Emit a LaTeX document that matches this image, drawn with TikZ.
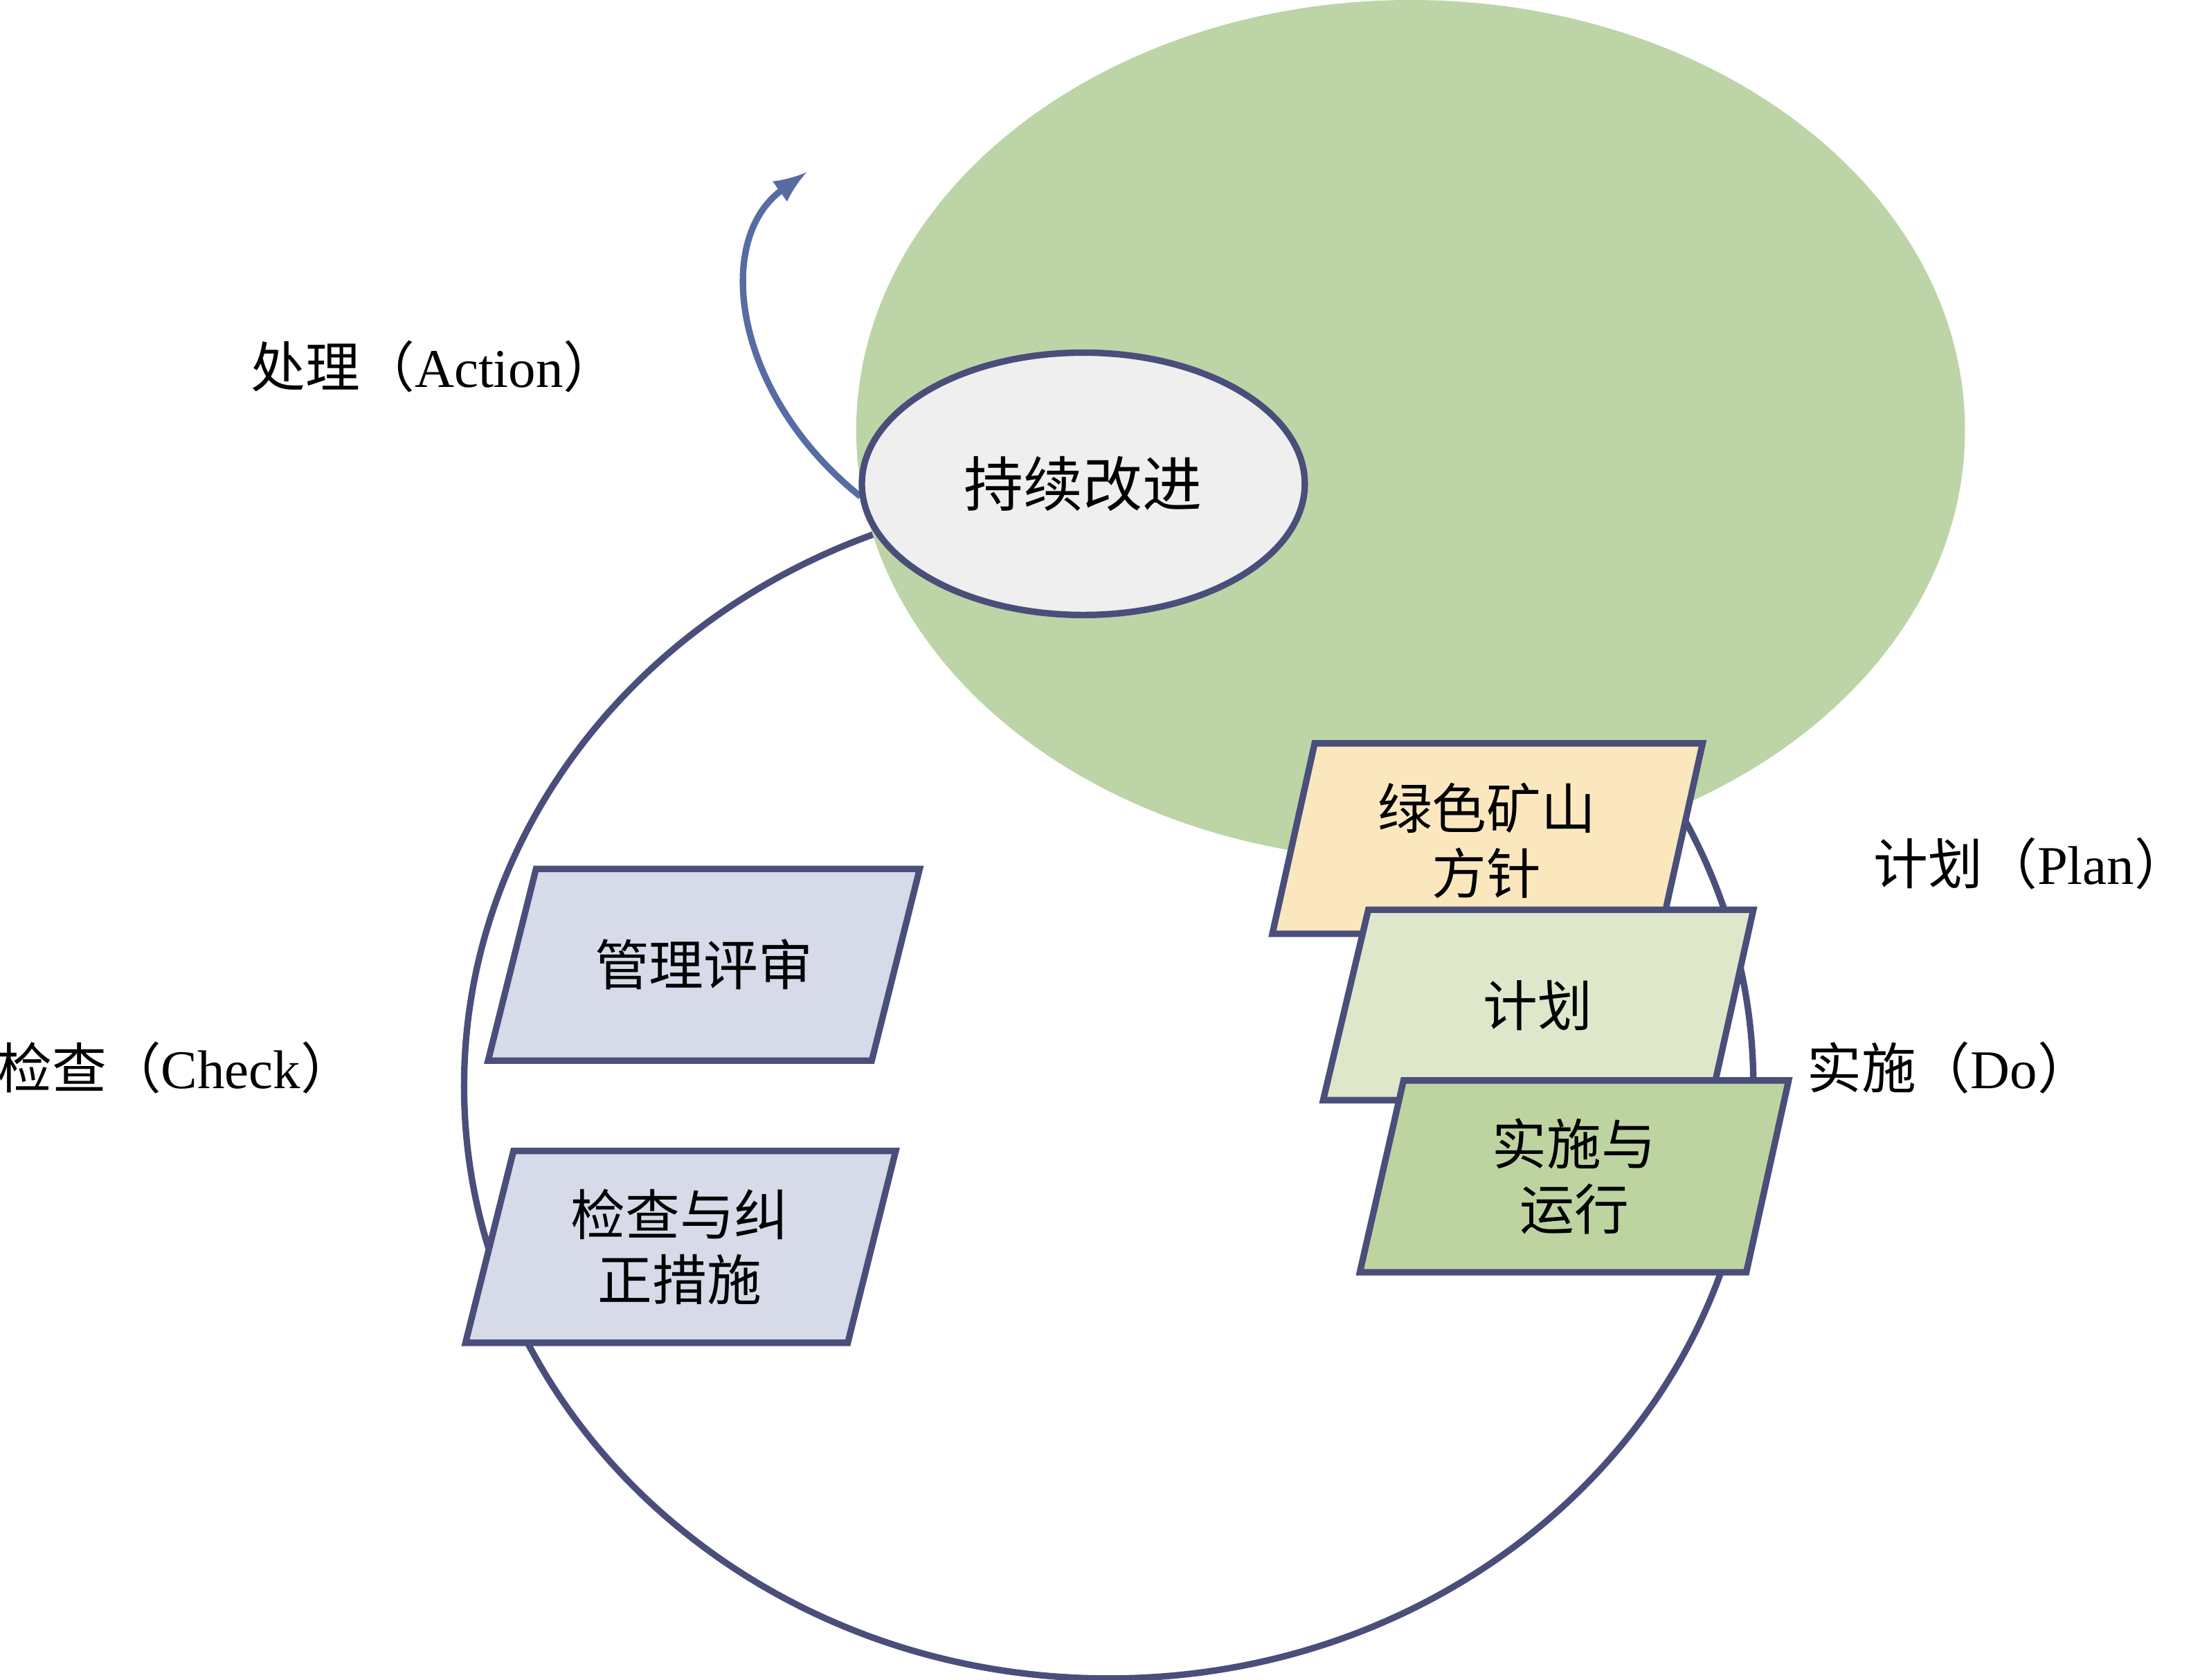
\documentclass[tikz,border=0pt]{standalone}
\usepackage{fontspec}
\setmainfont{Liberation Serif}
\newfontfamily\cjk{Noto Sans CJK SC}
\begin{document}
\begin{tikzpicture}[x=0.01cm,y=-0.01cm,
  navy/.style={draw={rgb,255:red,74;green,78;blue,122},line width=1.3pt},
  lab/.style={font=\fontsize{11pt}{13pt}\selectfont, align=center},
  para/.style={navy}]
\definecolor{gr}{RGB}{189,212,167}
\useasboundingbox (0,0) rectangle (1566,1191);
\draw[navy] (786,770) ellipse [x radius=457, y radius=420];
\fill[gr] (1000,305) ellipse [x radius=393, y radius=305];
\coordinate (as) at (610,352);
\coordinate (ae) at (572,122);
\draw[draw={rgb,255:red,88;green,108;blue,164},line width=1.3pt,-latex] (as) .. controls (520,280) and (505,170) .. (ae);
\draw[navy,fill={rgb,255:red,239;green,239;blue,239}] (768,343) ellipse [x radius=157, y radius=93];
\node[lab,font=\fontsize{12pt}{14pt}\selectfont] (ci) at (768,343) {\cjk 持续改进};
\draw[para,fill={rgb,255:red,251;green,231;blue,190}] (932,527)--(1207,527)--(1177,662)--(902,662)--cycle;
\node[lab] (p1) at (1054,596) {\cjk 绿色矿山\\\cjk 方针};
\draw[para,fill={rgb,255:red,222;green,231;blue,202}] (970,645)--(1243,645)--(1213,780)--(938,780)--cycle;
\node[lab] (p2) at (1090,713) {\cjk 计划};
\draw[para,fill={rgb,255:red,189;green,212;blue,160}] (995,766)--(1268,766)--(1238,902)--(964,902)--cycle;
\node[lab] (p3) at (1116,834) {\cjk 实施与\\\cjk 运行};
\draw[para,fill={rgb,255:red,214;green,218;blue,233}] (380,616)--(652,616)--(618,752)--(346,752)--cycle;
\node[lab] (c1) at (499,684) {\cjk 管理评审};
\draw[para,fill={rgb,255:red,214;green,218;blue,233}] (364,816)--(635,816)--(601,952)--(330,952)--cycle;
\node[lab] (c2) at (482,884) {\cjk 检查与纠\\\cjk 正措施};
\node[lab] (la) at (308,260) {\cjk 处理（\rmfamily Action\cjk ）};
\node[lab] (lp) at (1440,612) {\cjk 计划（\rmfamily Plan\cjk ）};
\node[lab] (ld) at (1382,757) {\cjk 实施（\rmfamily Do\cjk ）};
\node[lab] (lc) at (125,757) {\cjk 检查（\rmfamily Check\cjk ）};
\end{tikzpicture}
\end{document}
